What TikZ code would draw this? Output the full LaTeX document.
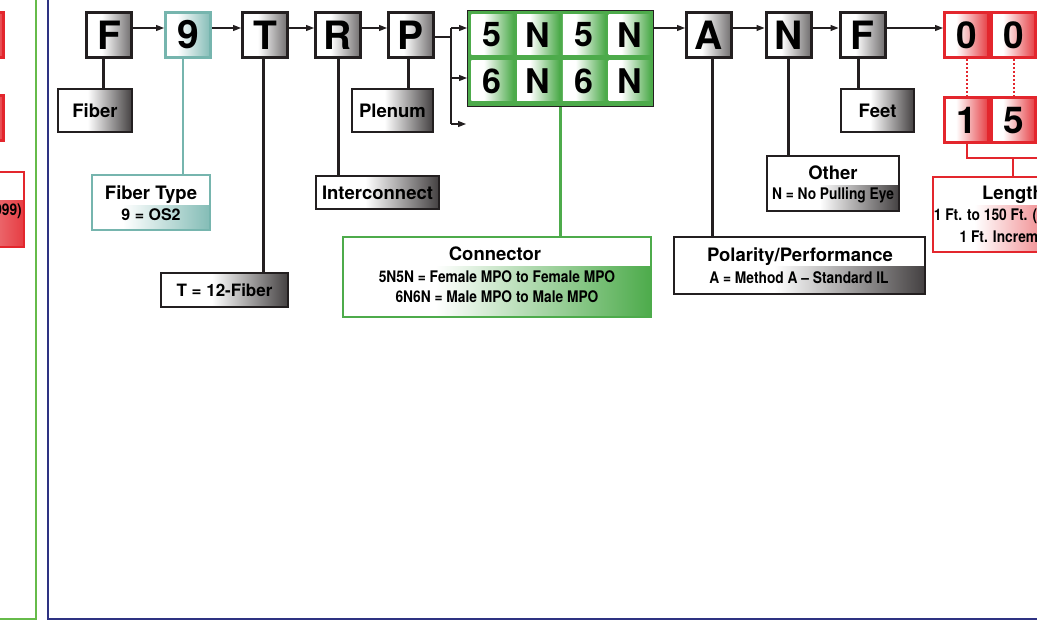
\documentclass[tikz,border=0pt]{standalone}
\usepackage{fontspec}
\setmainfont{TeX Gyre Heros}
\newfontfamily\narrowfont[FakeStretch=0.86]{TeX Gyre Heros}
\usetikzlibrary{arrows.meta,positioning}

\definecolor{codeblack}{HTML}{231F20}
\definecolor{tealc}{HTML}{76B5AE}
\definecolor{greenc}{HTML}{4DAB4B}
\definecolor{redc}{HTML}{E3262D}
\definecolor{navyc}{HTML}{2E3282}
\definecolor{leafc}{HTML}{66BB4A}

% the path is mapped onto 25bp..75bp of each shading
\pgfdeclarehorizontalshading{keyfade}{100bp}{color(0bp)=(white); color(42bp)=(white); color(75bp)=(codeblack!65); color(100bp)=(codeblack!65)}
\pgfdeclarehorizontalshading{grayfade}{100bp}{color(0bp)=(white); color(45bp)=(white); color(75bp)=(codeblack!85); color(100bp)=(codeblack!85)}
\pgfdeclarehorizontalshading{tealfade}{100bp}{color(0bp)=(white); color(38bp)=(white); color(75bp)=(tealc!90); color(100bp)=(tealc!90)}
\pgfdeclarehorizontalshading{greenfade}{100bp}{color(0bp)=(white); color(40bp)=(white); color(75bp)=(greenc); color(100bp)=(greenc)}
\pgfdeclarehorizontalshading{redfade}{100bp}{color(0bp)=(white); color(38bp)=(white); color(75bp)=(redc!90); color(100bp)=(redc!90)}

\tikzset{
  keybox/.style={draw=codeblack, line width=3pt, minimum width=45pt, minimum height=45pt,
    inner sep=0pt, shading=keyfade, font=\fontsize{39}{39}\selectfont\bfseries},
  redbox/.style={keybox, draw=redc, shading=redfade, minimum width=44pt,
    font=\fontsize{37}{37}\selectfont\bfseries},
  block/.style={draw=codeblack, line width=1pt, fill=greenc, minimum width=186pt, minimum height=96pt},
  cell/.style={shading=greenfade, minimum width=42pt, minimum height=40pt, inner sep=0pt,
    font=\fontsize{34}{34}\selectfont\bfseries},
  tagbox/.style={draw=codeblack, line width=2pt, inner sep=0pt, shading=grayfade,
    font=\fontsize{18.5}{18.5}\selectfont\bfseries},
  whitetop/.style={path picture={\fill[white] (path picture bounding box.north west)
    rectangle ([yshift=-#1]path picture bounding box.north east);}},
  tagtitle/.style={anchor=base, inner sep=0pt, font=\fontsize{18.5}{18.5}\selectfont\bfseries},
  tagline/.style={anchor=base, inner sep=0pt, font=\narrowfont\fontsize{16}{16}\selectfont\bfseries},
  link/.style={draw=codeblack, line width=1.3pt},
  flow/.style={link, -{Triangle[length=8pt,width=6pt]}},
  stem/.style={draw=codeblack, line width=3pt},
  redline/.style={draw=redc, line width=2pt},
  reddot/.style={draw=redc, line width=2pt, dash pattern=on 2pt off 2pt},
}

\begin{document}
\begin{tikzpicture}[x=1pt,y=-1pt]
\useasboundingbox (0,0) rectangle (1037,623);
\clip (0,0) rectangle (1037,623);

% previous panel (cut off)
\draw[leafc, line width=2pt] (36,-5) -- (36,619) -- (-5,619);
\node[redbox] (prevA) at (-18.5,35) {};
\node[redbox] (prevB) at (-18.5,118.5) {};
\node[tagbox, draw=redc, shading=redfade, whitetop=28pt, minimum width=160pt, minimum height=75pt] (prevlen) at (-56,209.5) {};
\node[tagline, anchor=base east] (prevrange) at (22,215) {(001-999)};

% frame
\draw[navyc, line width=2.5pt] (48,-5) -- (48,619) -- (1045,619);

% part number
\node[keybox] (cF) at (109,35) {F};
\node[keybox, draw=tealc, shading=tealfade] (c9) at (188,35) {9};
\node[keybox] (cT) at (265,35) {T};
\node[keybox] (cR) at (338,35) {R};
\node[keybox] (cP) at (411,35) {P};
\node[block] (conn) at (560.5,58.5) {};
\foreach \ch [count=\i] in {5,N,5,N}
  \node[cell] (c1\i) at ({446.5+45.8*\i},35) {\ch};
\foreach \ch [count=\i] in {6,N,6,N}
  \node[cell] (c2\i) at ({446.5+45.8*\i},81) {\ch};
\node[keybox] (cA) at (709,35) {A};
\node[keybox] (cN) at (788.5,35) {N};
\node[keybox] (cFt) at (862.5,35) {F};
\node[redbox] (z1) at (966.5,35) {0};
\node[redbox] (z2) at (1013.5,35) {0};
\node[redbox] (o1) at (966.5,120.5) {1};
\node[redbox] (o2) at (1013.5,120.5) {5};

\foreach \s/\e in {cF/c9, c9/cT, cT/cR, cR/cP, cA/cN, cN/cFt, cFt/z1}
  \draw[flow] ([yshift=7pt]\s.east) -- ([yshift=7pt]\e.west);
\draw[flow] ([yshift=7pt]c14 -| conn.east) -- ([yshift=7pt]cA.west);

% fork into connector choices
\draw[link] ([yshift=-2pt]cP.east) -- ++(16,0) coordinate (fork);
\coordinate (open) at (466,124);
\draw[link] ([yshift=7pt]fork |- c11) -- (fork |- open);
\draw[flow] ([yshift=7pt]fork |- c11) -- ([yshift=7pt]c11 -| conn.west);
\draw[flow] ([yshift=3pt]fork |- c21) -- ([yshift=3pt]c21 -| conn.west);
\draw[flow] (fork |- open) -- (open);

% labels
\node[tagbox, minimum width=74pt, minimum height=43pt] (fiber) at (95,110.5) {Fiber};
\node[tagbox, draw=tealc, shading=tealfade, whitetop=30pt, minimum width=118pt, minimum height=55pt] (type) at (151,202.5) {};
\node[tagtitle] (typetitle) at (151,200) {Fiber Type};
\node[tagline, font=\fontsize{16}{16}\selectfont\bfseries] (typeline) at (151,220) {9 = OS2};
\node[tagbox, font=\fontsize{17}{17}\selectfont\bfseries, minimum width=127pt, minimum height=34pt] (count) at (224.5,290) {T = 12-Fiber};
\node[tagbox, minimum width=123pt, minimum height=33pt] (inter) at (377.5,192.5) {Interconnect};
\node[tagbox, minimum width=81pt, minimum height=43pt] (plenum) at (392.5,110.5) {Plenum};
\node[tagbox, draw=greenc, shading=greenfade, whitetop=29pt, minimum width=308pt, minimum height=80pt] (connbox) at (497,277) {};
\node[tagtitle] (conntitle) at (495,260) {Connector};
\node[tagline] (connfemale) at (497,282) {5N5N = Female MPO to Female MPO};
\node[tagline] (connmale) at (497,302) {6N6N = Male MPO to Male MPO};
\node[tagbox, whitetop=29pt, minimum width=251pt, minimum height=57pt] (polar) at (799.5,265.5) {};
\node[tagtitle] (polartitle) at (800,261) {Polarity/Performance};
\node[tagline] (polarline) at (799,283) {A = Method A – Standard IL};
\node[tagbox, whitetop=29pt, minimum width=132pt, minimum height=55pt] (other) at (833,183.5) {};
\node[tagtitle] (othertitle) at (833,180) {Other};
\node[tagline] (otherline) at (833,200) {N = No Pulling Eye};
\node[tagbox, minimum width=73pt, minimum height=43pt] (feet) at (877.5,110.5) {Feet};
\node[tagbox, draw=redc, shading=redfade, whitetop=28pt, minimum width=160pt, minimum height=75pt] (len) at (1013,214.5) {};
\node[tagtitle] (lentitle) at (1013,200) {Length};
\node[tagline] (lenrange) at (1013,220) {1 Ft. to 150 Ft. (001-150)};
\node[tagline] (lenstep) at (1013,242) {1 Ft. Increments};

% stems
\draw[stem] ([xshift=-6pt]cF.south) -- ([xshift=-6pt]cF.south |- fiber.north);
\draw[stem, draw=tealc, line width=2.5pt] ([xshift=-5pt]c9.south) -- ([xshift=-5pt]c9.south |- type.north);
\draw[stem] ([xshift=-2pt]cT.south) -- ([xshift=-2pt]cT.south |- count.north);
\draw[stem] (cR.south) -- (cR.south |- inter.north);
\draw[stem] ([xshift=-3pt]cP.south) -- ([xshift=-3pt]cP.south |- plenum.north);
\draw[stem, draw=greenc, line width=2.5pt] (conn.south) -- (conn.south |- connbox.north);
\draw[stem] ([xshift=3pt]cA.south) -- ([xshift=3pt]cA.south |- polar.north);
\draw[stem] (cN.south) -- (cN.south |- other.north);
\draw[stem] ([xshift=-4pt]cFt.south) -- ([xshift=-4pt]cFt.south |- feet.north);

% length digits
\coordinate (edge) at (1045,0);
\draw[reddot] (z1.south) -- (o1.north);
\draw[reddot] (z2.south) -- (o2.north);
\draw[redline] (o1.south) -- ++(0,13.5) coordinate (brk) -- (brk -| edge);
\draw[redline] (brk -| len.north) -- (len.north);
\end{tikzpicture}
\end{document}
